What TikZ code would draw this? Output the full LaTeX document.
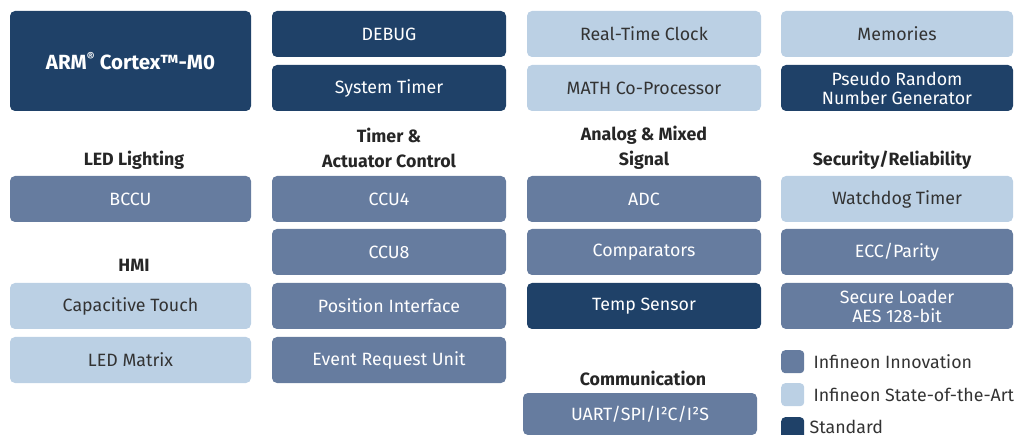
\documentclass[tikz,border=0pt]{standalone}
\usepackage{fontspec}
\setmainfont{Fira Sans}
\usetikzlibrary{positioning}

\definecolor{stdblue}{HTML}{1F4168}
\definecolor{innblue}{HTML}{667C9F}
\definecolor{soablue}{HTML}{BBD0E4}
\definecolor{txtgray}{HTML}{333333}

\begin{document}
\begin{tikzpicture}[
  x=1pt, y=-1pt,
  font=\fontsize{17.8}{19}\selectfont,
  blk/.style={rectangle, rounded corners=5pt, minimum width=234pt, minimum height=46pt,
              inner sep=0pt, outer sep=0pt, align=center, anchor=north west},
  wide/.style={minimum width=241pt},
  std/.style={blk, fill=stdblue, text=white},
  innov/.style={blk, fill=innblue, text=white},
  soa/.style={blk, fill=soablue, text=txtgray},
  head/.style={font=\fontsize{17.8}{25}\selectfont\bfseries, text=black!85, align=center, inner sep=0pt},
  key/.style={rectangle, rounded corners=4pt, minimum size=23pt, inner sep=0pt, anchor=north west},
  keylbl/.style={right=9pt of #1, text=txtgray, inner sep=0pt},
]
\useasboundingbox (0,0) rectangle (1014,435);

% core and system blocks
\node[std, wide, minimum height=100pt, font=\fontsize{20.5}{22}\selectfont\bfseries] (arm) at (10,11)
  {ARM\textsuperscript{\large®} Cortex™-M0};
\node[std] (debug) at (272,11) {DEBUG};
\node[std, below=8pt of debug] (systimer) {System Timer};
\node[soa] (rtc) at (527,11) {Real-Time Clock};
\node[soa, below=8pt of rtc] (math) {MATH Co-Processor};
\node[soa, minimum width=232pt] (mem) at (781,11) {Memories};
\node[std, minimum width=232pt, below=8pt of mem] (prng) {Pseudo Random\\Number Generator};

% LED lighting and HMI
\node[head] (hled) at (134,160) {LED Lighting};
\node[innov, wide] (bccu) at (10,176) {BCCU};
\node[head] (hhmi) at (134,265) {HMI};
\node[soa, wide] (captouch) at (10,283) {Capacitive Touch};
\node[soa, wide, below=8pt of captouch] (ledmatrix) {LED Matrix};

% timer and actuator control
\node[head] (htimer) at (389,148) {Timer \&\\Actuator Control};
\node[innov] (ccu4) at (272,176) {CCU4};
\node[innov, below=7pt of ccu4] (ccu8) {CCU8};
\node[innov, below=8pt of ccu8] (posif) {Position Interface};
\node[innov, below=8pt of posif] (eru) {Event Request Unit};

% analog and mixed signal
\node[head] (hanalog) at (644,148) {Analog \& Mixed\\Signal};
\node[innov] (adc) at (527,176) {ADC};
\node[innov, below=7pt of adc] (comp) {Comparators};
\node[std, below=8pt of comp] (temp) {Temp Sensor};

% communication
\node[head] (hcomm) at (643,378) {Communication};
\node[innov, minimum height=42pt] (uart) at (523,393) {UART/SPI/I²C/I²S};

% security and reliability
\node[head] (hsec) at (892,160) {Security/Reliability};
\node[soa, minimum width=232pt] (wdt) at (781,176) {Watchdog Timer};
\node[innov, minimum width=232pt, below=7pt of wdt] (ecc) {ECC/Parity};
\node[innov, minimum width=232pt, below=8pt of ecc] (secload) {Secure Loader\\AES 128-bit};

% legend
\node[key, fill=innblue] (kinn) at (781,350) {};
\node[keylbl=kinn] (linn) {Infineon Innovation};
\node[key, fill=soablue] (ksoa) at (781,383) {};
\node[keylbl=ksoa] (lsoa) {Infineon State-of-the-Art};
\node[key, fill=stdblue] (kstd) at (781,417) {};
\node[keylbl=kstd, xshift=-4pt, yshift=2pt] (lstd) {Standard};

\end{tikzpicture}
\end{document}
